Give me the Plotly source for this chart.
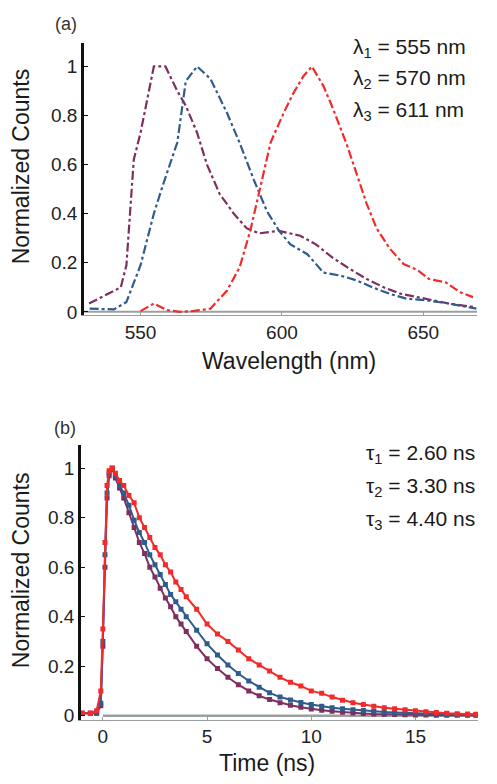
import plotly.graph_objects as go

# ---------- Panel (a): emission spectra ----------
wl1 = [531.8, 538, 543, 545, 547.6, 550, 554.7, 558.8, 563, 566, 570, 573.5, 578, 583, 587.6, 592, 599, 606.5, 612, 618, 624, 630, 636, 642, 648, 654, 659, 667.6]
s1 = [0.034, 0.07, 0.10, 0.19, 0.62, 0.73, 1.0, 1.0, 0.9, 0.84, 0.73, 0.6, 0.48, 0.40, 0.34, 0.32, 0.33, 0.31, 0.275, 0.22, 0.175, 0.134, 0.10, 0.074, 0.06, 0.047, 0.034, 0.02]

wl2 = [532, 536, 540.6, 545, 550, 554.7, 558, 563, 566, 570, 574.7, 580.6, 585, 590, 594.7, 599, 603, 609, 614.7, 620.6, 626.5, 632, 638, 644, 651, 658, 665, 668.8]
s2 = [0.013, 0.013, 0.01, 0.04, 0.19, 0.40, 0.52, 0.69, 0.94, 1.0, 0.95, 0.81, 0.69, 0.54, 0.41, 0.33, 0.275, 0.235, 0.16, 0.148, 0.128, 0.10, 0.074, 0.054, 0.047, 0.036, 0.02, 0.013]

wl3 = [550, 554.7, 559.4, 564, 569, 574.7, 580.6, 585, 588.8, 591, 593.5, 596, 600.6, 604, 607.6, 610.6, 614.7, 618, 623, 626.5, 630, 633.5, 638, 643, 648, 652, 658, 663, 667.6]
s3 = [0.003, 0.034, 0.007, 0.0, 0.004, 0.013, 0.087, 0.18, 0.33, 0.44, 0.57, 0.69, 0.81, 0.89, 0.96, 1.0, 0.92, 0.83, 0.68, 0.56, 0.44, 0.34, 0.26, 0.195, 0.17, 0.134, 0.12, 0.08, 0.06]

base_wl = [530, 669]
base_s = [0.0, 0.0]

# ---------- Panel (b): decay curves ----------
t = [-1.0, -0.6, -0.3, -0.1, 0.0, 0.1, 0.2, 0.3, 0.45, 0.6, 0.8, 1.0, 1.25, 1.5, 1.75, 2.0, 2.25, 2.5, 2.75, 3.0,
     3.25, 3.5, 3.75, 4.0, 4.5, 5.0, 5.5, 6.0, 6.5, 7.0, 7.5, 8.0, 8.5, 9.0, 9.5, 10.0, 10.5, 11.0, 11.5, 12.0,
     12.5, 13.0, 13.5, 14.0, 14.5, 15.0, 15.5, 16.0, 16.5, 17.0, 17.5, 17.9]
d1 = [0.01, 0.01, 0.01, 0.04, 0.28, 0.6, 0.88, 0.97, 1.0, 0.96, 0.92, 0.88, 0.82, 0.76, 0.70, 0.655, 0.6, 0.56, 0.515, 0.475,
      0.44, 0.40, 0.37, 0.34, 0.28, 0.23, 0.19, 0.155, 0.125, 0.10, 0.08, 0.065, 0.052, 0.042, 0.034, 0.027, 0.022, 0.018, 0.014, 0.011,
      0.009, 0.007, 0.006, 0.005, 0.004, 0.003, 0.003, 0.002, 0.002, 0.002, 0.002, 0.002]
d2 = [0.01, 0.01, 0.01, 0.05, 0.3, 0.65, 0.9, 0.98, 1.0, 0.97, 0.93, 0.9, 0.85, 0.79, 0.74, 0.70, 0.65, 0.61, 0.57, 0.53,
      0.49, 0.46, 0.43, 0.40, 0.345, 0.29, 0.245, 0.205, 0.17, 0.14, 0.115, 0.092, 0.075, 0.063, 0.053, 0.045, 0.038, 0.032, 0.028, 0.024,
      0.021, 0.018, 0.015, 0.013, 0.011, 0.010, 0.008, 0.007, 0.006, 0.005, 0.004, 0.004]
d3 = [0.01, 0.01, 0.02, 0.1, 0.35, 0.7, 0.93, 0.99, 1.0, 0.98, 0.95, 0.93, 0.89, 0.86, 0.80, 0.76, 0.72, 0.68, 0.65, 0.61,
      0.58, 0.54, 0.51, 0.48, 0.43, 0.37, 0.33, 0.30, 0.265, 0.23, 0.205, 0.18, 0.155, 0.135, 0.12, 0.10, 0.09, 0.075, 0.062, 0.052,
      0.045, 0.038, 0.032, 0.028, 0.024, 0.02, 0.016, 0.013, 0.01, 0.008, 0.007, 0.006]

base_t = [0.0, 17.9]
base_d = [0.0, 0.0]

c_purple = "#7E2F5E"
c_blue = "#2F5C8C"
c_red = "#F22A2A"
c_gray = "#9AA0A0"

FAM = "Liberation Sans, Arial, sans-serif"

# The page body has an 8px default margin: size the figure so it fills the window exactly.
OX, OY = 8, 8
W, H = 497 - OX, 784 - OY

def xp(px):
    return (px - OX) / W

def yp(py):
    return 1 - (py - OY) / H

fig = go.Figure()

# panel (a)
fig.add_trace(go.Scatter(x=base_wl, y=base_s, mode="lines", line=dict(color=c_gray, width=2), xaxis="x", yaxis="y", showlegend=False))
for xs, ys, c in [(wl1, s1, c_purple), (wl2, s2, c_blue), (wl3, s3, c_red)]:
    fig.add_trace(go.Scatter(x=xs, y=ys, mode="lines", line=dict(color=c, width=2.2, dash="dashdot"),
                             xaxis="x", yaxis="y", showlegend=False))

# panel (b)
fig.add_trace(go.Scatter(x=base_t, y=base_d, mode="lines", line=dict(color=c_gray, width=2.5), xaxis="x2", yaxis="y2", showlegend=False))
for ys, c in [(d1, c_purple), (d2, c_blue), (d3, c_red)]:
    fig.add_trace(go.Scatter(x=t, y=ys, mode="lines+markers", line=dict(color=c, width=2),
                             marker=dict(color=c, size=5, symbol="square"),
                             xaxis="x2", yaxis="y2", showlegend=False))

tickfont = dict(family=FAM, size=19, color="#222")
titlefont = dict(family=FAM, size=23, color="#1a1a1a")

def yax(domain, rng, anchor):
    return dict(domain=domain, range=rng, anchor=anchor, showline=True, linecolor="#111", linewidth=2.5,
                ticks="inside", ticklen=4, tickcolor="#111", tickvals=[0, 0.2, 0.4, 0.6, 0.8, 1],
                ticktext=["0", "0.2", "0.4", "0.6", "0.8", "1"], tickfont=tickfont, showgrid=False, zeroline=False)

def xax(domain, rng, anchor, tickvals):
    return dict(domain=domain, range=rng, anchor=anchor, showline=True, linecolor=c_gray, linewidth=1,
                ticks="inside", ticklen=3, tickcolor=c_gray, tickvals=tickvals, tickfont=tickfont,
                showgrid=False, zeroline=False)

fig.update_layout(
    width=W, height=H,
    margin=dict(l=0, r=0, t=0, b=0),
    paper_bgcolor="white", plot_bgcolor="white",
    xaxis=xax([xp(84), xp(477)], [530, 669], "y", [550, 600, 650]),
    yaxis=yax([yp(318), yp(43)], [-0.012, 1.097], "x"),
    xaxis2=xax([xp(81), xp(478)], [-1.05, 18.0], "y2", [0, 5, 10, 15]),
    yaxis2=yax([yp(727), yp(450)], [-0.016, 1.092], "x2"),
)

def text(s, x, y, font, xanchor="center", angle=0):
    fig.add_annotation(text=s, xref="paper", yref="paper", x=xp(x), y=yp(y), xanchor=xanchor,
                       yanchor="middle", showarrow=False, font=font, textangle=angle)

# axis titles
text("Normalized Counts", 21, 168, titlefont, angle=-90)
text("Normalized Counts", 21, 576, titlefont, angle=-90)
text("Wavelength (nm)", 289, 365, titlefont)
text("Time (ns)", 267, 771, titlefont)

afont = dict(family=FAM, size=21, color="#1a1a1a")
labels_a = ["λ<sub>1</sub> = 555 nm", "λ<sub>2</sub> = 570 nm", "λ<sub>3</sub> = 611 nm"]
labels_b = ["τ<sub>1</sub> = 2.60 ns", "τ<sub>2</sub> = 3.30 ns", "τ<sub>3</sub> = 4.40 ns"]
for i, s in enumerate(labels_a):
    text(s, 351, 48 + 32 * i, afont, xanchor="left")
for i, s in enumerate(labels_b):
    text(s, 364, 459 + 33 * i, afont, xanchor="left")

lab = dict(family=FAM, size=18, color="#333")
text("(a)", 53, 24, lab, xanchor="left")
text("(b)", 52, 432, lab, xanchor="left")

fig.write_html("out.html")
